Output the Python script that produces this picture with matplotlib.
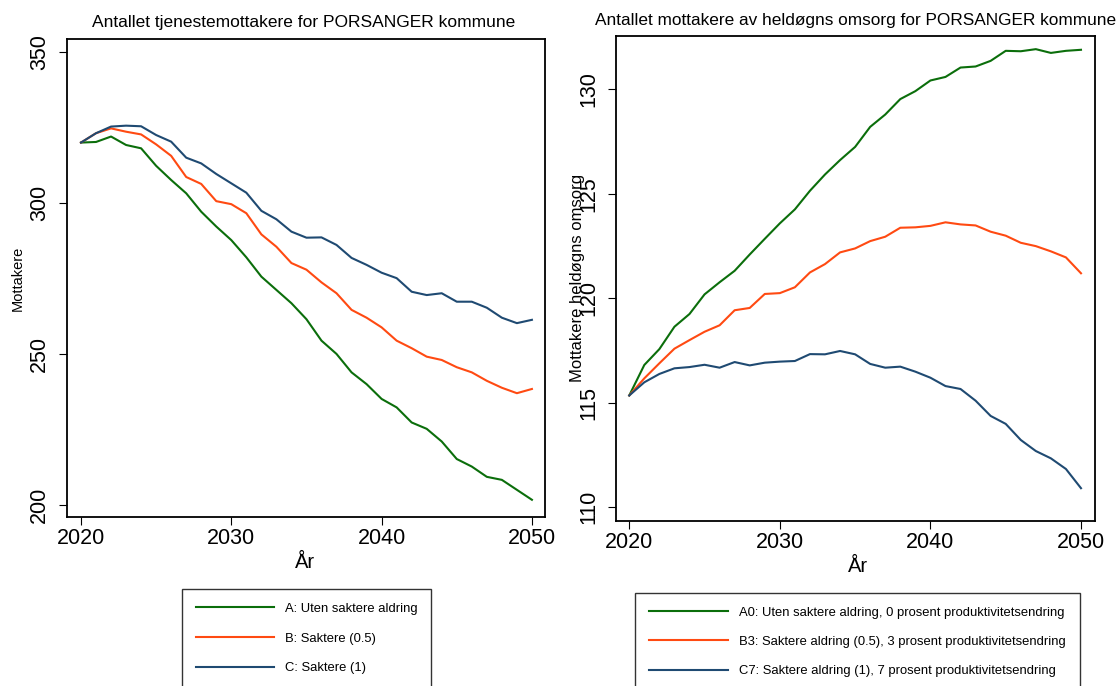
import matplotlib
matplotlib.use("Agg")
import matplotlib.pyplot as plt
from matplotlib.lines import Line2D

plt.rcParams['font.family'] = ['Liberation Sans', 'DejaVu Sans']

years = list(range(2020, 2051))

# Left panel: Antallet tjenestemottakere
left_A = [320.0, 320.2, 322.0, 319.2, 318.1, 312.3, 307.6, 303.2, 297.1, 292.2,
          287.7, 282.0, 275.6, 271.2, 266.8, 261.5, 254.4, 250.0, 243.9, 240.0,
          235.1, 232.3, 227.3, 225.2, 221.0, 215.2, 212.7, 209.3, 208.3, 205.0, 201.7]
left_B = [320.0, 323.1, 324.7, 323.6, 322.7, 319.4, 315.6, 308.6, 306.3, 300.6,
          299.6, 296.6, 289.6, 285.5, 280.1, 277.9, 273.7, 270.1, 264.6, 262.0,
          258.8, 254.4, 251.9, 249.1, 248.0, 245.6, 243.9, 241.1, 238.8, 237.0, 238.4]
left_C = [320.0, 323.1, 325.3, 325.6, 325.4, 322.5, 320.3, 315.0, 313.1, 309.6,
          306.5, 303.4, 297.4, 294.6, 290.5, 288.5, 288.6, 286.1, 281.8, 279.5,
          276.9, 275.1, 270.6, 269.5, 270.1, 267.3, 267.3, 265.3, 262.0, 260.2, 261.3]

# Right panel: Antallet mottakere av heldøgns omsorg
right_A0 = [115.35, 116.81, 117.57, 118.64, 119.25, 120.19, 120.77, 121.32, 122.10, 122.85,
            123.59, 124.26, 125.15, 125.93, 126.62, 127.25, 128.21, 128.80, 129.54, 129.92,
            130.43, 130.60, 131.05, 131.10, 131.37, 131.85, 131.83, 131.93, 131.75, 131.85, 131.90]
right_B3 = [115.35, 116.17, 116.89, 117.59, 118.00, 118.40, 118.71, 119.43, 119.54, 120.21,
            120.25, 120.53, 121.24, 121.64, 122.20, 122.39, 122.74, 122.95, 123.38, 123.40,
            123.47, 123.64, 123.54, 123.49, 123.19, 123.00, 122.66, 122.50, 122.25, 121.96, 121.20]
right_C7 = [115.35, 115.98, 116.38, 116.65, 116.71, 116.82, 116.68, 116.95, 116.79, 116.92,
            116.97, 117.00, 117.33, 117.32, 117.48, 117.32, 116.86, 116.68, 116.73, 116.49,
            116.20, 115.80, 115.66, 115.10, 114.37, 113.99, 113.22, 112.69, 112.34, 111.83, 110.91]

left_labels = ["A: Uten saktere aldring", "B: Saktere (0.5)", "C: Saktere (1)"]
right_labels = ["A0: Uten saktere aldring, 0 prosent produktivitetsendring",
                "B3: Saktere aldring (0.5), 3 prosent produktivitetsendring",
                "C7: Saktere aldring (1), 7 prosent produktivitetsendring"]
x_ticks = [2020, 2030, 2040, 2050]
left_yticks = [200, 250, 300, 350]
right_yticks = [110, 115, 120, 125, 130]

colors = ["#0b6e0b", "#ff4a12", "#1f4a72"]

W, H = 1118, 686
fig = plt.figure(figsize=(W / 100, H / 100), dpi=100)


def fx(px):
    return px / W


def fy(py):
    return 1 - py / H


def style_axes(ax, yticks):
    for s in ax.spines.values():
        s.set_linewidth(1.3)
        s.set_color("black")
    ax.set_xticks(x_ticks)
    ax.set_yticks(yticks)
    ax.tick_params(direction="out", length=6, width=0.8, labelsize=15.5, color="black")
    ax.tick_params(axis="x", pad=2)
    ax.tick_params(axis="y", pad=6, labelrotation=90)
    for lab in ax.get_yticklabels():
        lab.set_va("center")


# Left axes
axL = fig.add_axes([fx(67), fy(517), fx(545) - fx(67), fy(39) - fy(517)])
for vals, c in zip([left_A, left_B, left_C], colors):
    axL.plot(years, vals, color=c, lw=1.5)
axL.set_xlim(2019.07, 2050.87)
axL.set_ylim(196.0, 354.3)
style_axes(axL, left_yticks)

# Right axes
axR = fig.add_axes([fx(616), fy(521), fx(1095) - fx(616), fy(36) - fy(521)])
for vals, c in zip([right_A0, right_B3, right_C7], colors):
    axR.plot(years, vals, color=c, lw=1.5)
axR.set_xlim(2019.12, 2050.93)
axR.set_ylim(109.34, 132.56)
style_axes(axR, right_yticks)

# Titles and labels
fig.text(fx(304), fy(23), "Antallet tjenestemottakere for PORSANGER kommune",
         ha="center", va="center", fontsize=12.5)
fig.text(fx(856), fy(20), "Antallet mottakere av heldøgns omsorg for PORSANGER kommune",
         ha="center", va="center", fontsize=12.4)
fig.text(fx(18), fy(278), "Mottakere", rotation=90, ha="center", va="center", fontsize=10.5)
fig.text(fx(578), fy(278), "Mottakere heldøgns omsorg", rotation=90, ha="center",
         va="center", fontsize=12)
fig.text(fx(305), fy(562), "År", ha="center", va="center", fontsize=14.5)
fig.text(fx(858), fy(566), "År", ha="center", va="center", fontsize=14.5)

# Legends
handles = [Line2D([0], [0], color=c, lw=1.5) for c in colors]
legL = fig.legend(handles, left_labels, loc="upper left",
                  bbox_to_anchor=(fx(182), fy(589)), borderaxespad=0,
                  fontsize=9.4, frameon=True, fancybox=False, edgecolor="black",
                  handlelength=6.0, handletextpad=0.85, labelspacing=1.35, borderpad=1.05)
legL.get_frame().set_linewidth(1.0)
legR = fig.legend(handles, right_labels, loc="upper left",
                  bbox_to_anchor=(fx(635), fy(593)), borderaxespad=0,
                  fontsize=9.4, frameon=True, fancybox=False, edgecolor="black",
                  handlelength=6.1, handletextpad=0.85, labelspacing=1.3, borderpad=1.05)
legR.get_frame().set_linewidth(1.0)

fig.savefig("out.png", dpi=100)
